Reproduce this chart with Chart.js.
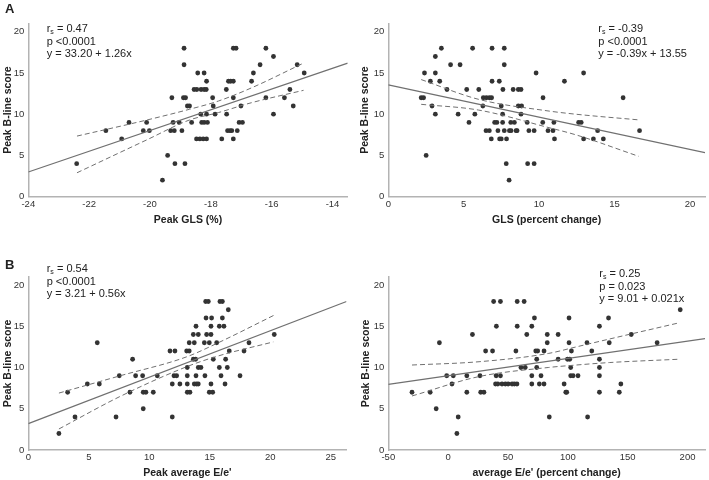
<!DOCTYPE html>
<html>
<head>
<meta charset="utf-8">
<title>Peak B-line score correlations</title>
<script src="https://cdn.jsdelivr.net/npm/chart.js@4.4.1/dist/chart.umd.min.js"></script>
<style>
  body { margin: 0; background: #fff; }
  #figure { position: relative; width: 709px; height: 480px; overflow: hidden;
            font-family: Arial, "Liberation Sans", sans-serif; color: #222; }
  .panel { position: absolute; }
  .stats { position: absolute; font-size: 11px; line-height: 12.7px; white-space: nowrap; }
  .stats sub { font-size: 7px; vertical-align: -2px; line-height: 0; }
  .letter { position: absolute; font-size: 13px; line-height: 13px; font-weight: bold; }
</style>
</head>
<body>
<div id="figure">
  <div class="panel" style="left:0;top:0;width:354px;height:240px"><canvas id="chart-a1"></canvas></div>
  <div class="panel" style="left:354px;top:0;width:355px;height:240px"><canvas id="chart-a2"></canvas></div>
  <div class="panel" style="left:0;top:240px;width:354px;height:240px"><canvas id="chart-b1"></canvas></div>
  <div class="panel" style="left:354px;top:240px;width:355px;height:240px"><canvas id="chart-b2"></canvas></div>

  <div class="letter" style="left:5px;top:1.6px">A</div>
  <div class="letter" style="left:5px;top:258.3px">B</div>

  <div class="stats" style="left:46.7px;top:22px">r<sub>s</sub> = 0.47<br>p &lt;0.0001<br>y = 33.20 + 1.26x</div>
  <div class="stats" style="left:598.3px;top:22px">r<sub>s</sub> = -0.39<br>p &lt;0.0001<br>y = -0.39x + 13.55</div>
  <div class="stats" style="left:46.7px;top:262px">r<sub>s</sub> = 0.54<br>p &lt;0.0001<br>y = 3.21 + 0.56x</div>
  <div class="stats" style="left:599.3px;top:267px">r<sub>s</sub> = 0.25<br>p = 0.023<br>y = 9.01 + 0.021x</div>
</div>

<script>
// Peak B-line score (y) against four echo measures.

const blineTicks = [0, 5, 10, 15, 20];

// A, left: peak GLS (%)
const glsPeakTicks = [-24, -22, -20, -18, -16, -14];
const glsPeak = [-22.41, -21.45, -20.93, -20.69, -20.22, -20.11, -20.02, -19.42, -19.59, -19.28, -19.32, -19.2,
  -19.24, -19.18, -19.04, -18.95, -18.88, -18.88, -18.9, -18.83, -18.85, -18.77, -18.7,
  -18.43, -18.22, -18.14, -18.55, -18.46, -18.32, -18.22, -18.15, -17.94, -17.92, -18.33, -18.14, -17.86,
  -17.48, -18.63, -18.3, -18.22, -18.11, -17.07, -16.96, -17.45, -17.37, -17.31, -17.13, -18.47, -18.36,
  -18.25, -18.14, -17.64, -17.26, -17.26, -17.17, -16.19, -15.94, -16.38, -16.6, -15.16, -14.93, -16.66,
  -17.42, -17.35, -17.26, -17.49, -15.4, -17.26, -16.19, -15.58, -15.29, -17.01, -15.94];
const glsPeakBline = [4, 8, 7, 9, 8, 9, 8, 5, 2, 12, 8, 8, 9, 4, 9, 8, 18, 16, 12, 12, 4, 11, 11,
  15, 15, 14, 13, 13, 13, 13, 13, 12, 11, 10, 10, 10, 10, 9, 9, 9, 9, 9, 9, 8, 8, 8, 8, 7, 7,
  7, 7, 7, 7, 18, 18, 18, 17, 16, 15, 16, 15, 14, 14, 14, 14, 13, 13, 12, 12, 12, 11, 11, 10];
const glsPeakFit = [[-24, 3.0], [-13.5, 16.2]];
const glsPeakUpper = [[-22.4, 7.35], [-20.1, 9.3], [-18.7, 10.6], [-17.75, 11.6], [-16.66, 13.2], [-14.95, 16.2]];
const glsPeakLower = [[-22.4, 2.9], [-20.1, 6.9], [-18.7, 9.3], [-17.75, 10.2], [-16.66, 11.4], [-14.95, 12.9]];

// A, right: GLS (percent change)
const glsChangeTicks = [0, 5, 10, 15, 20];
const glsChange = [2.18, 2.34, 2.4, 2.51, 2.79, 2.9, 3.12, 3.12, 3.12, 3.41, 3.52, 3.89, 4.13, 4.63, 4.76,
  5.2, 5.35, 5.59, 5.74, 6.0, 6.27, 6.3, 6.5, 6.7, 6.85, 6.48, 6.7, 6.88, 6.88, 6.83, 7.05, 7.2, 7.27,
  7.36, 7.38, 7.49, 7.49, 7.58, 7.6, 7.58, 7.69, 7.69, 7.69, 7.84, 7.82, 8.03, 8.14, 8.01, 8.12, 8.36,
  8.28, 8.47, 8.54, 8.62, 8.8, 8.62, 8.84, 8.8, 9.24, 9.21, 9.32, 9.67, 9.67, 9.8, 10.24, 10.26, 10.59,
  10.92, 10.98, 11.02, 11.68, 12.95, 15.57, 12.62, 12.79, 12.95, 13.6, 13.88, 14.26, 16.66];
const glsChangeBline = [12, 12, 15, 5, 14, 11, 17, 15, 10, 14, 18, 13, 16, 10, 16,
  13, 9, 18, 10, 13, 11, 12, 12, 12, 12, 8, 8, 18, 14, 7, 9, 9, 8,
  14, 7, 7, 11, 9, 13, 10, 18, 16, 8, 7, 4, 8, 8, 2, 9, 9,
  13, 8, 8, 13, 13, 11, 11, 10, 4, 9, 8, 8, 4, 15, 9, 12, 8,
  8, 9, 7, 14, 15, 12, 9, 9, 7, 7, 8, 7, 8];
const glsChangeFit = [[0, 13.55], [21, 5.35]];
const glsChangeUpper = [[2.18, 14.2], [6.0, 11.8], [10.59, 10.4], [12.44, 10.0], [16.7, 9.3]];
const glsChangeLower = [[2.18, 11.2], [6.0, 10.5], [10.59, 8.4], [12.44, 7.5], [16.6, 4.9]];

// B, left: peak average E/e'
const eePeakTicks = [0, 5, 10, 15, 20, 25];
const eePeak = [2.53, 3.25, 3.86, 4.88, 5.7, 5.87, 7.25, 7.52, 8.4, 8.62, 8.87, 9.45, 9.5, 9.5, 9.72,
  10.33, 10.66, 11.71, 12.12, 11.9, 11.9, 12.04, 12.26, 12.53, 13.09, 13.3, 13.14, 13.14, 13.14, 13.14,
  13.36, 13.3,
  14.66, 14.88, 15.84, 16.04, 16.53, 14.69, 15.15, 16.04, 13.86, 15.1, 15.79, 16.17, 13.64, 14.05, 14.74,
  15.1, 20.33, 13.72, 14.55, 14.96, 15.57, 18.24, 16.61, 17.83, 13.64, 13.83, 15.29, 16.31, 14.05, 14.27,
  15.79, 16.45, 13.86, 14.6, 15.93, 17.5, 13.72, 13.91, 14.05, 15.1, 16.26, 14.96, 15.24];
const eePeakBline = [2, 7, 4, 8, 13, 8, 4, 9, 7, 11, 9, 9, 5, 7, 7,
  7, 9, 12, 12, 8, 4, 9, 9, 8, 12, 12, 10, 9, 8, 7,
  7, 13,
  18, 18, 18, 18, 17, 16, 16, 16, 15, 15, 15, 15, 14, 14, 14,
  14, 14, 13, 13, 13, 13, 13, 12, 12, 11, 11, 11, 11, 10, 10,
  10, 10, 9, 9, 9, 9, 8, 8, 8, 8, 8, 7, 7];
const eePeakFit = [[0, 3.2], [26.3, 18.0]];
const eePeakUpper = [[2.53, 6.9], [7.6, 9.0], [13.1, 11.3], [15.7, 13.0], [20.4, 16.4]];
const eePeakLower = [[2.53, 2.55], [7.6, 6.5], [13.1, 10.1], [15.7, 11.4], [20.25, 13.1]];

// B, right: average E/e' (percent change)
const eeChangeTicks = [-50, 0, 50, 100, 150, 200];
const eeChange = [-30.2, -15, -10, -7.3, -1.2, 3.2, 4.3, 8.4, 7.3, 15.6, 15.6, 20.3, 26.6, 27.2, 29.9,
  31.3, 37.1, 38, 40.3, 40.1, 43.7,
  39.6, 41.5, 45, 47.8, 50.1, 53.4, 55.3, 57.5, 69.9, 76.2, 80.1, 96.9, 144.3,
  43.7, 56.6, 57.7, 57.7, 60.8, 64.4, 63.5, 65.7, 69.9, 69.9, 72.1, 73.2, 74.8, 74, 74, 77.6, 80.1, 82.8,
  82.8, 84.5,
  91.9, 91.9, 98.3, 99.1, 99.7, 101.6, 101, 101, 102.4, 103, 102.4, 104.4, 108.5, 116, 116.5, 120, 126.4,
  126.4, 126.4, 126.4, 126.4, 134, 134.6, 143, 153, 174.6, 193.9];
const eeChangeBline = [7, 7, 5, 13, 9, 8, 9, 4, 2, 9, 7, 14, 9, 7, 7,
  12, 12, 18, 15, 9, 9,
  8, 8, 8, 8, 8, 8, 8, 8, 8, 8, 8, 8, 8,
  18, 12, 15, 18, 10, 10, 18, 14, 9, 15, 16, 12, 12, 11, 10, 9, 12, 13,
  14, 4,
  14, 11, 7, 7, 11, 11, 16, 13, 10, 12, 9, 9, 9, 13, 4, 12, 15,
  11, 10, 9, 7, 16, 13, 7, 14, 13, 17];
const eeChangeFit = [[-50, 7.95], [214.6, 13.5]];
const eeChangeUpper = [[-30.2, 10.3], [25.8, 10.7], [83.6, 11.7], [107.1, 12.5], [134.7, 13.45], [192.5, 15.4]];
const eeChangeLower = [[-30.2, 6.55], [25.8, 8.9], [83.6, 10.0], [107.1, 10.3], [134.7, 10.6], [192.5, 11.0]];

Chart.defaults.font.family = 'Arial, "Liberation Sans", sans-serif';
Chart.defaults.color = '#333';

const DOT = '#333333';
const LINE = '#707070';
const AXIS = '#b3b3b3';

function toPoints(xs, ys) {
  return xs.map((x, i) => ({ x: x, y: ys[i] }));
}

function pairs(list) {
  return list.map(p => ({ x: p[0], y: p[1] }));
}

function lineDataset(list, dashed) {
  return {
    data: pairs(list),
    showLine: true,
    borderColor: LINE,
    borderWidth: dashed ? 1 : 1.2,
    borderDash: dashed ? [5, 3] : [],
    cubicInterpolationMode: 'monotone',
    pointRadius: 0,
    fill: false
  };
}

function axis(opts) {
  const horizontal = opts.horizontal;
  return {
    type: 'linear',
    min: opts.min,
    max: opts.max,
    grid: { display: false, drawTicks: false },
    border: { display: true, color: AXIS, width: 1.5 },
    ticks: { padding: horizontal ? 2 : 4, color: '#333', font: { size: 9.5 }, autoSkip: false, maxRotation: 0 },
    afterBuildTicks: scale => {
      scale.ticks = opts.ticks.map(v => ({ value: v }));
    },
    afterFit: scale => {
      if (horizontal) {
        scale.height = opts.size;
      } else {
        scale.width = opts.size;
      }
    },
    title: {
      display: true,
      text: opts.title,
      color: '#222',
      font: { size: 10.5, weight: 'bold', lineHeight: 1 },
      padding: opts.titlePadding
    }
  };
}

function renderPanel(id, panel) {
  const ctx = document.getElementById(id);
  if (!ctx) return null;

  return new Chart(ctx, {
    type: 'scatter',
    data: {
      datasets: [
        lineDataset(panel.fit, false),
        lineDataset(panel.upper, true),
        lineDataset(panel.lower, true),
        {
          data: toPoints(panel.xs, panel.ys),
          backgroundColor: DOT,
          borderWidth: 0,
          pointRadius: 2.4
        }
      ]
    },
    options: {
      responsive: true,
      maintainAspectRatio: false,
      animation: false,
      events: [],
      layout: { padding: panel.padding },
      plugins: {
        legend: { display: false },
        tooltip: { enabled: false }
      },
      scales: {
        x: axis({
          horizontal: true, min: panel.xMin, max: panel.xMax, ticks: panel.xTicks,
          title: panel.xTitle, size: panel.xSize, titlePadding: { top: 0, bottom: panel.xTitlePad }
        }),
        y: axis({
          horizontal: false, min: 0, max: 21, ticks: blineTicks,
          title: 'Peak B-line score', size: panel.ySize, titlePadding: { top: panel.yTitlePad, bottom: 0 }
        })
      }
    }
  });
}

renderPanel('chart-a1', {
  xs: glsPeak, ys: glsPeakBline, fit: glsPeakFit, upper: glsPeakUpper, lower: glsPeakLower,
  xMin: -24, xMax: -13.5, xTicks: glsPeakTicks, xTitle: 'Peak GLS (%)',
  xSize: 43.3, xTitlePad: 14.75, ySize: 28.3, yTitlePad: 3,
  padding: { top: 23.5, right: 6.3, bottom: 0, left: 0 }
});

renderPanel('chart-a2', {
  xs: glsChange, ys: glsChangeBline, fit: glsChangeFit, upper: glsChangeUpper, lower: glsChangeLower,
  xMin: 0, xMax: 21, xTicks: glsChangeTicks, xTitle: 'GLS (percent change)',
  xSize: 43.3, xTitlePad: 14.75, ySize: 34.3, yTitlePad: 6,
  padding: { top: 23.5, right: 0.5, bottom: 0, left: 0 }
});

renderPanel('chart-b1', {
  xs: eePeak, ys: eePeakBline, fit: eePeakFit, upper: eePeakUpper, lower: eePeakLower,
  xMin: 0, xMax: 26.3, xTicks: eePeakTicks, xTitle: "Peak average E/e'",
  xSize: 30, xTitlePad: 1.5, ySize: 28.3, yTitlePad: 3,
  padding: { top: 36.75, right: 7.5, bottom: 0, left: 0 }
});

renderPanel('chart-b2', {
  xs: eeChange, ys: eeChangeBline, fit: eeChangeFit, upper: eeChangeUpper, lower: eeChangeLower,
  xMin: -50, xMax: 214.6, xTicks: eeChangeTicks, xTitle: "average E/e' (percent change)",
  xSize: 30, xTitlePad: 1.5, ySize: 34.3, yTitlePad: 6.5,
  padding: { top: 36.75, right: 0.5, bottom: 0, left: 0 }
});
</script>
</body>
</html>
